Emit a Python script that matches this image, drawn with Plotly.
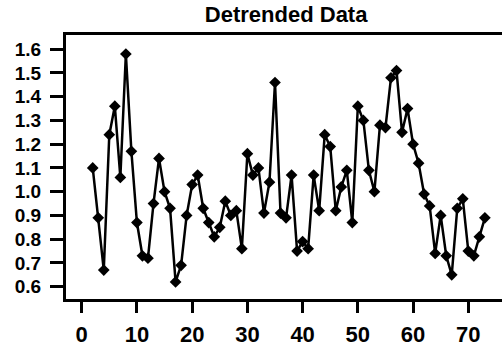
import plotly.graph_objects as go

x_index = list(range(2, 74))
values = [1.10, 0.89, 0.67, 1.24, 1.36, 1.06, 1.58, 1.17, 0.87, 0.73,
          0.72, 0.95, 1.14, 1.00, 0.93, 0.62, 0.69, 0.90, 1.03, 1.07,
          0.93, 0.87, 0.81, 0.85, 0.96, 0.90, 0.92, 0.76, 1.16, 1.07,
          1.10, 0.91, 1.04, 1.46, 0.91, 0.89, 1.07, 0.75, 0.79, 0.76,
          1.07, 0.92, 1.24, 1.19, 0.92, 1.02, 1.09, 0.87, 1.36, 1.30,
          1.09, 1.00, 1.28, 1.27, 1.48, 1.51, 1.25, 1.35, 1.20, 1.12,
          0.99, 0.94, 0.74, 0.90, 0.73, 0.65, 0.93, 0.97, 0.75, 0.73,
          0.81, 0.89]
x_ticks = [0, 10, 20, 30, 40, 50, 60, 70]
y_ticks = [0.6, 0.7, 0.8, 0.9, 1.0, 1.1, 1.2, 1.3, 1.4, 1.5, 1.6]
y_tick_labels = ["0.6", "0.7", "0.8", "0.9", "1.0", "1.1", "1.2", "1.3", "1.4", "1.5", "1.6"]
title_text = "Detrended Data"

sans = "Liberation Sans, Arial, sans-serif"

fig = go.Figure()
fig.add_trace(go.Scatter(
    x=x_index, y=values, mode="lines+markers",
    line=dict(color="black", width=2.5),
    marker=dict(symbol="diamond", size=9, color="black"),
    showlegend=False,
))

fig.update_layout(
    width=502, height=350,
    margin=dict(l=66, r=0, t=35, b=51, autoexpand=False),
    paper_bgcolor="white", plot_bgcolor="white",
    title=dict(text=title_text, x=0.57, xanchor="center", y=1 - 14 / 350,
               yanchor="middle", yref="container",
               font=dict(family=sans, size=22, color="black", weight="bold")),
)
fig.update_xaxes(
    automargin=False,
    range=[-2.84, 76.1], tickvals=x_ticks, ticktext=[str(t) for t in x_ticks],
    showgrid=False, zeroline=False,
    showline=True, linecolor="black", linewidth=3, mirror=True,
    ticks="outside", ticklen=11, tickwidth=2.5, tickcolor="black",
    ticklabelstandoff=3,
    tickfont=dict(family=sans, size=22, color="black", weight="bold"),
)
fig.update_yaxes(
    automargin=False,
    range=[0.548, 1.660], tickvals=y_ticks, ticktext=y_tick_labels,
    showgrid=False, zeroline=False,
    showline=True, linecolor="black", linewidth=3, mirror=False,
    ticks="outside", ticklen=13, tickwidth=2.5, tickcolor="black",
    ticklabelstandoff=5,
    tickfont=dict(family=sans, size=19, color="black", weight="bold"),
)

fig.write_html(
    "out.html",
    config={"displayModeBar": False},
    post_script="document.body.style.margin='0';document.body.style.overflow='hidden';",
)
